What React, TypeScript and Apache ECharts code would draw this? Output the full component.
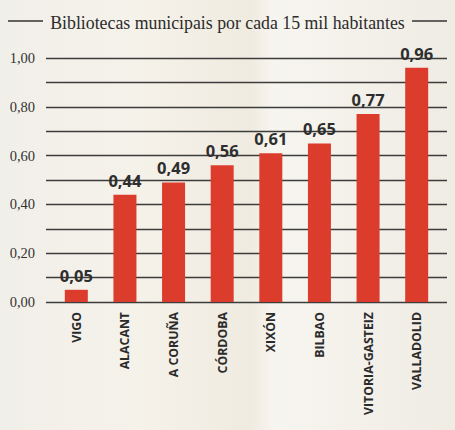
import React, { useEffect, useRef } from "react";
import * as echarts from "echarts";

const categories = ["VIGO", "ALACANT", "A CORUÑA", "CÓRDOBA", "XIXÓN", "BILBAO", "VITORIA-GASTEIZ", "VALLADOLID"];
const values = [0.05, 0.44, 0.49, 0.56, 0.61, 0.65, 0.77, 0.96];
const titleText = "Bibliotecas municipais por cada 15 mil habitantes";

const fmt = (v: number) => v.toFixed(2).replace(".", ",");

export default function App() {
  const ref = useRef<HTMLDivElement>(null);
  useEffect(() => {
    document.body.style.margin = "0";
    const chart = echarts.init(ref.current!, null, { renderer: "svg" });
    chart.setOption({
      animation: false,
      backgroundColor: {
        type: "linear", x: 0, y: 0, x2: 1, y2: 0,
        colorStops: [
          { offset: 0, color: "#f1efe9" },
          { offset: 0.3, color: "#f5f2ea" },
          { offset: 0.55, color: "#f0ebe0" },
          { offset: 0.6, color: "#f7f5ef" },
          { offset: 1, color: "#efece4" },
        ],
      },
      title: {
        text: titleText,
        left: "center",
        top: 9,
        textStyle: { fontFamily: "Liberation Serif", fontWeight: "normal", fontSize: 17.8, color: "#2b2b2b" },
      },
      graphic: [
        { type: "line", shape: { x1: 8, y1: 21, x2: 43, y2: 21 }, style: { stroke: "#333", lineWidth: 1.5 } },
        { type: "line", shape: { x1: 412, y1: 21, x2: 447, y2: 21 }, style: { stroke: "#333", lineWidth: 1.5 } },
      ],
      grid: [
        { left: 52, right: 14, top: 58, height: 244 },
        { left: 46, right: 8, top: 58, height: 244 },
      ],
      xAxis: [
        {
          type: "category", gridIndex: 0, data: categories,
          axisLine: { show: false }, axisTick: { show: false },
          axisLabel: {
            rotate: 90, margin: 10, fontFamily: "Open Sans", fontWeight: "bold", fontSize: 12.3, color: "#2b2b2b",
          },
        },
        {
          type: "value", gridIndex: 1, min: 0, max: 1, show: true,
          axisLine: { show: false }, axisTick: { show: false }, axisLabel: { show: false }, splitLine: { show: false },
        },
      ],
      yAxis: [
        {
          type: "value", gridIndex: 0, min: 0, max: 1, interval: 0.1,
          axisLine: { show: false }, axisTick: { show: false }, axisLabel: { show: false }, splitLine: { show: false },
        },
        {
          type: "value", gridIndex: 1, min: 0, max: 1, interval: 0.1,
          axisLine: { show: false }, axisTick: { show: false },
          splitLine: { show: true, lineStyle: { color: "#3c3c3c", width: 1.4 } },
          axisLabel: {
            margin: 11, fontFamily: "Liberation Serif", fontSize: 14.5, color: "#333",
            formatter: (v: number) => (Math.round(v * 10) % 2 === 0 ? fmt(v) : ""),
          },
        },
      ],
      series: [
        {
          type: "bar", xAxisIndex: 0, yAxisIndex: 0, data: values, barWidth: 23,
          itemStyle: { color: "#dc3c2c" },
          label: {
            show: true, position: "top", distance: 6,
            fontFamily: "Open Sans", fontWeight: "bold", fontSize: 16.5, color: "#2e2e2e",
            formatter: (p: any) => fmt(p.value),
          },
        },
      ],
    });
    return () => chart.dispose();
  }, []);
  return <div ref={ref} style={{ width: 455, height: 430 }} />;
}
